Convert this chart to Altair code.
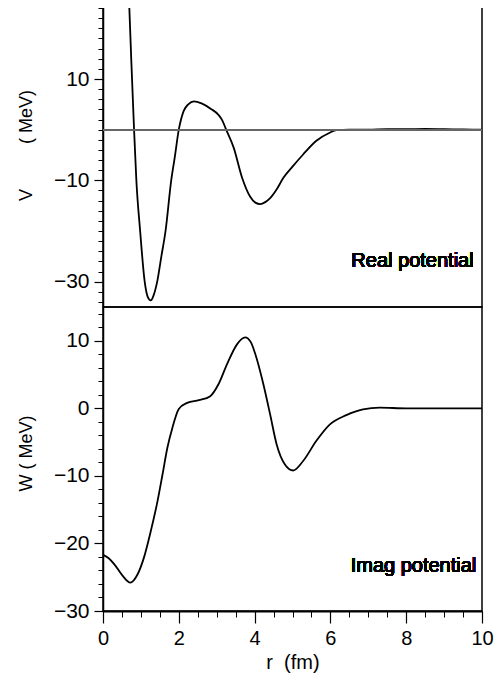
import altair as alt
import pandas as pd

# Real potential V(r)
r_real = [0.69, 0.75, 0.82, 0.88, 0.98, 1.10, 1.18, 1.26, 1.34, 1.43, 1.54, 1.65, 1.80, 1.89,
          2.00, 2.13, 2.25, 2.40, 2.60, 2.85, 3.05, 3.15, 3.25, 3.45, 3.67, 3.88, 4.02, 4.15,
          4.28, 4.41, 4.58, 4.76, 5.00, 5.28, 5.63, 5.98, 6.16, 6.50, 7.00, 7.50, 8.00, 8.50,
          9.00, 9.50, 10.0]
v_real = [25, 13, 0, -10, -20, -30, -33, -33.7, -32.6, -30, -25, -20, -10, -5.6,
          0, 3.7, 5.0, 5.6, 5.2, 4.1, 2.9, 1.8, 0, -3.6, -9.5, -13.2, -14.4, -14.7,
          -14.3, -13.5, -11.8, -9.5, -7.3, -4.9, -2.2, -0.6, -0.1, 0.0, 0.0, 0.1, 0.1, 0.15,
          0.1, 0.05, 0.0]

# Imaginary potential W(r)
r_imag = [0.0, 0.15, 0.30, 0.52, 0.72, 0.91, 1.08, 1.26, 1.44, 1.57, 1.70, 1.83, 2.00, 2.22,
          2.53, 2.83, 3.05, 3.27, 3.54, 3.75, 3.90, 4.02, 4.23, 4.41, 4.58, 4.80, 5.02, 5.28,
          5.63, 5.98, 6.42, 6.86, 7.30, 8.0, 9.0, 10.0]
w_imag = [-21.7, -22.2, -23.1, -24.8, -25.8, -24.6, -22.1, -18.2, -13.7, -9.8, -5.8, -2.9, -0.1, 0.8,
          1.2, 1.8, 3.6, 6.5, 9.5, 10.5, 9.8, 8.0, 3.6, -0.9, -5.3, -8.3, -9.2, -7.8,
          -4.8, -2.4, -1.0, -0.15, 0.1, 0.0, 0.0, 0.0]

v_major = [-30, -10, 10]
v_minor = list(range(-34, 25, 2))
w_major = [-30, -20, -10, 0, 10]
w_minor = list(range(-30, 15, 2))
x_major = [0, 2, 4, 6, 8, 10]
x_minor = [i * 0.5 for i in range(0, 21)]

NB = "\u00a0"
FONT = "Liberation Sans"
PW, PH = 379, 304

df_v = pd.DataFrame({"r": r_real, "V": v_real})
df_w = pd.DataFrame({"r": r_imag, "W": w_imag})

xscale = alt.Scale(domain=[0, 10], nice=False, zero=False)
vscale = alt.Scale(domain=[-35, 25], nice=False, zero=False)
wscale = alt.Scale(domain=[-30, 15], nice=False, zero=False)


def major_y(title, values, title_y):
    return alt.Axis(
        orient="left",
        values=values,
        title=title,
        titleX=-77,
        titleY=title_y,
        titleBaseline="middle",
        titleAlign="center",
        titleFont=FONT,
        titleFontSize=18,
        titleFontWeight="normal",
        titleColor="black",
        labelFont=FONT,
        labelFontSize=21,
        labelColor="black",
        labelPadding=5,
        labelOverlap=False,
        tickSize=9,
        tickColor="black",
        tickWidth=1.2,
        domainColor="black",
        domainWidth=1.5,
        grid=False,
    )


def minor_y(values):
    return alt.Axis(
        orient="left",
        values=values,
        title=None,
        labels=False,
        tickSize=5,
        tickColor="black",
        tickWidth=1,
        domain=False,
        grid=False,
    )


# ---- top panel (real part)
top_line = alt.Chart(df_v).mark_line(
    color="black", strokeWidth=1.8, interpolate="monotone", clip=True
).encode(
    x=alt.X("r:Q", scale=xscale, axis=None),
    y=alt.Y("V:Q", scale=vscale, axis=major_y("V" + NB * 9 + "( MeV)", v_major, 142)),
)
top_minor = alt.Chart(df_v).mark_point(opacity=0).encode(
    x=alt.X("r:Q", scale=xscale, axis=None),
    y=alt.Y("V:Q", scale=vscale, axis=minor_y(v_minor)),
)
zero_rule = alt.Chart(df_v).mark_rule(color="#666666", strokeWidth=1).encode(
    y=alt.YDatum(0, axis=None)
)
top_text = alt.Chart(df_v).mark_text(
    text="Real potential", align="right", baseline="middle", font=FONT, fontSize=20, color="black"
).encode(x=alt.XDatum(9.78, axis=None), y=alt.YDatum(-26, axis=None))

top = alt.layer(top_line, top_minor, zero_rule, top_text).resolve_axis(
    x="independent", y="independent"
).properties(width=PW, height=PH)

# ---- bottom panel (imaginary part)
bot_line = alt.Chart(df_w).mark_line(
    color="black", strokeWidth=1.8, interpolate="monotone", clip=True
).encode(
    x=alt.X(
        "r:Q",
        scale=xscale,
        axis=alt.Axis(
            orient="bottom",
            values=x_major,
            title="r" + NB * 2 + "(fm)",
            titleFont=FONT,
            titleFontSize=20,
            titleFontWeight="normal",
            titleColor="black",
            titlePadding=4,
            labelFont=FONT,
            labelFontSize=20,
            labelColor="black",
            labelPadding=5,
            labelOverlap=False,
            labelFlush=False,
            tickSize=12,
            tickColor="black",
            tickWidth=1.2,
            domainColor="black",
            domainWidth=2,
            grid=False,
        ),
    ),
    y=alt.Y("W:Q", scale=wscale, axis=major_y("W ( MeV)", w_major, 146)),
)
bot_minor = alt.Chart(df_w).mark_point(opacity=0).encode(
    x=alt.X(
        "r:Q",
        scale=xscale,
        axis=alt.Axis(
            orient="bottom", values=x_minor, title=None, labels=False,
            tickSize=6, tickColor="black", tickWidth=1, domain=False, grid=False,
        ),
    ),
    y=alt.Y("W:Q", scale=wscale, axis=minor_y(w_minor)),
)
bot_text = alt.Chart(df_w).mark_text(
    text="Imag potential", align="right", baseline="middle", font=FONT, fontSize=20, color="black"
).encode(x=alt.XDatum(9.85, axis=None), y=alt.YDatum(-23.3, axis=None))

bottom = alt.layer(bot_line, bot_minor, bot_text).resolve_axis(
    x="independent", y="independent"
).properties(width=PW, height=PH)

chart = alt.vconcat(top, bottom, spacing=0, bounds="flush").properties(
    padding={"left": 8, "top": -9, "right": 0, "bottom": 0}
).configure_view(stroke="black", strokeWidth=1.5)

chart.save("out.html", embed_options={"renderer": "svg", "actions": False})
